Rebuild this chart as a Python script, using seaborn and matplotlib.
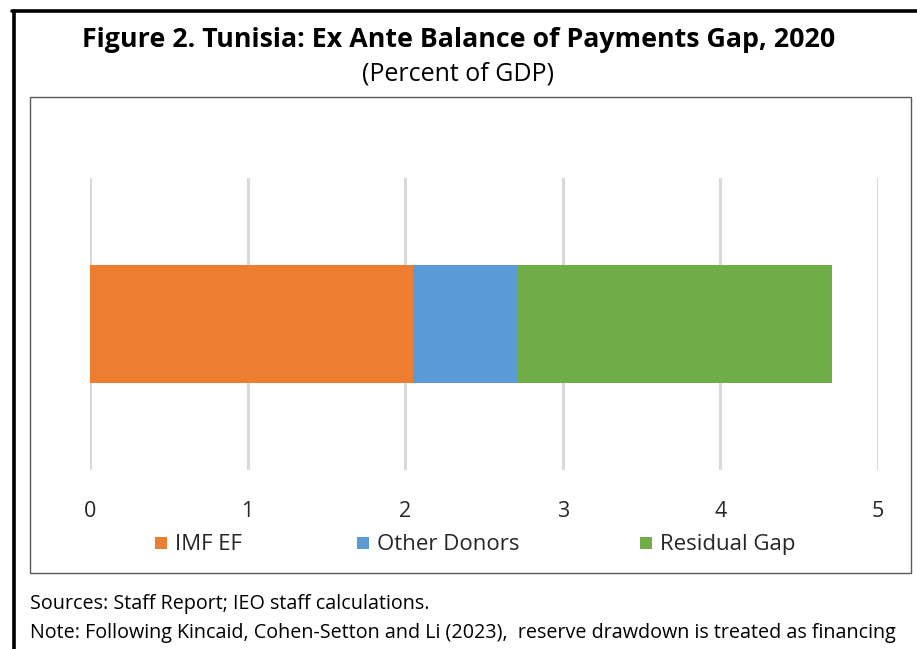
import numpy as np
import matplotlib
matplotlib.use("Agg")
import matplotlib.pyplot as plt
import seaborn as sns
import pandas as pd
from matplotlib.patches import Rectangle
from matplotlib.lines import Line2D

# dados
componentes = ["IMF EF", "Other Donors", "Residual Gap"]
valores = [2.05, 0.66, 2.0]
cores = ["#ED7D31", "#5B9BD5", "#70AD47"]
ticks_x = [0, 1, 2, 3, 4, 5]

sns.set_theme(style="white")
plt.rcParams["font.family"] = ["Open Sans", "DejaVu Sans"]

fig = plt.figure(figsize=(9.17, 6.49), dpi=100)
W, H = 917, 649

def fx(x):
    return x / W

def fy(y):
    return 1 - y / H

# moldura externa (linhas pretas à esquerda e em cima)
fig.add_artist(Line2D([fx(13.5), fx(13.5)], [fy(10.5), 0], color="black", lw=2.6, transform=fig.transFigure))
fig.add_artist(Line2D([fx(12), 1], [fy(10.5), fy(10.5)], color="black", lw=2.6, transform=fig.transFigure))

# caixa interna
fig.add_artist(Rectangle((fx(30), fy(573)), fx(911 - 30), (573 - 97) / H, fill=False,
                         edgecolor="#595959", lw=1.0, transform=fig.transFigure))

fig.text(0.5, fy(40), "Figure 2. Tunisia: Ex Ante Balance of Payments Gap, 2020",
         ha="center", va="center", fontsize=19.3, fontweight="bold", color="black")
fig.text(0.5, fy(74), "(Percent of GDP)", ha="center", va="center", fontsize=18, color="black")

ax = fig.add_axes([fx(90), fy(470), fx(878 - 90), (470 - 178) / H])

# barras empilhadas: desenha os acumulados do maior para o menor
acumulado = np.cumsum(valores)
df = pd.DataFrame({"grupo": ["2020"] * len(componentes), "comp": componentes, "acum": acumulado})
for i in range(len(componentes) - 1, -1, -1):
    sns.barplot(data=df.iloc[[i]], x="acum", y="grupo", color=cores[i], width=0.404,
                saturation=1, ax=ax, zorder=3, edgecolor="none", orient="h")

ax.set_xlim(0, 5)
ax.set_ylim(0.5, -0.5)
ax.set_xticks(ticks_x)
ax.set_xticklabels([str(t) for t in ticks_x], fontsize=15.5, color="#262626")
ax.tick_params(axis="x", length=0, pad=22)
ax.set_yticks([])
ax.set_xlabel("")
ax.set_ylabel("")
for s in ax.spines.values():
    s.set_visible(False)
ax.grid(axis="x", color="#D9D9D9", lw=2.2, zorder=0)
ax.set_axisbelow(True)

# legenda manual (posições como no original)
leg_x = [155, 357, 640]
for xq, nome, cor in zip(leg_x, componentes, cores):
    fig.add_artist(Rectangle((fx(xq), fy(549)), fx(12), 12 / H, facecolor=cor, edgecolor="none",
                             transform=fig.transFigure))
    fig.text(fx(xq + 20), fy(550), nome, ha="left", va="baseline", fontsize=16, color="#262626")

fig.text(fx(30), fy(604), "Sources: Staff Report; IEO staff calculations.", ha="left", va="center",
         fontsize=14.2, color="black")
fig.text(fx(30), fy(633), "Note: Following Kincaid, Cohen-Setton and Li (2023),  reserve drawdown is treated as financing",
         ha="left", va="center", fontsize=14.2, color="black")

fig.savefig("out.png", dpi=100)
